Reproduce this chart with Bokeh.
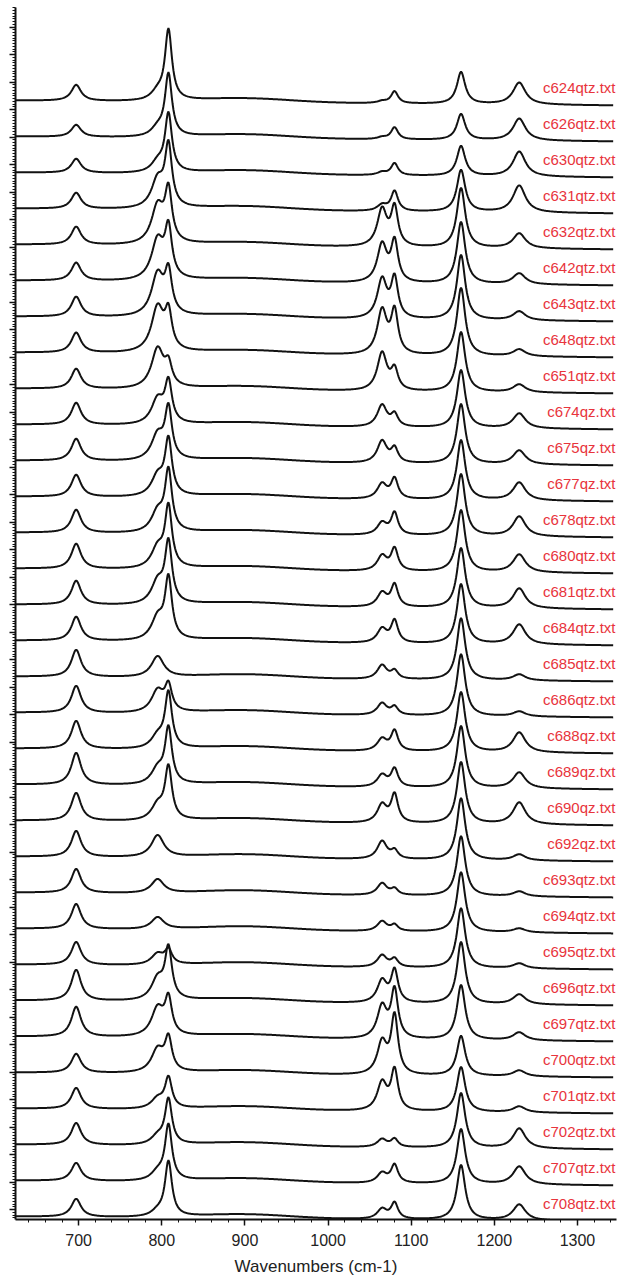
import numpy as np
from bokeh.plotting import figure
from bokeh.models import ColumnDataSource, LabelSet, SingleIntervalTicker, CustomLabelingPolicy
from bokeh.core.properties import value
from bokeh.embed import file_html
from bokeh.resources import INLINE

names = ["c624qtz.txt", "c626qtz.txt", "c630qtz.txt", "c631qtz.txt", "c632qtz.txt",
         "c642qtz.txt", "c643qtz.txt", "c648qtz.txt", "c651qtz.txt", "c674qz.txt",
         "c675qz.txt", "c677qz.txt", "c678qtz.txt", "c680qtz.txt", "c681qtz.txt",
         "c684qtz.txt", "c685qtz.txt", "c686qtz.txt", "c688qz.txt", "c689qz.txt",
         "c690qz.txt", "c692qz.txt", "c693qtz.txt", "c694qtz.txt", "c695qtz.txt",
         "c696qtz.txt", "c697qtz.txt", "c700qtz.txt", "c701qtz.txt", "c702qtz.txt",
         "c707qtz.txt", "c708qtz.txt"]

# band centres (cm-1) and half widths
band_pos = [697, 795, 808, 1065, 1080, 1160, 1230]
band_hw = [7, 9, 5, 7, 5, 6, 9]

# band heights per spectrum (intensity counts)
h697 = [16, 12, 14, 16, 18, 18, 20, 20, 20, 22, 22, 22, 23, 25, 24, 24,
        27, 27, 28, 32, 28, 26, 24, 25, 23, 31, 30, 19, 21, 22, 18, 18]
h795 = [8, 8, 10, 28, 38, 40, 42, 45, 40, 25, 25, 20, 20, 20, 22, 22,
        21, 22, 12, 15, 15, 22, 14, 12, 11, 21, 28, 23, 10, 8, 8, 5]
h808 = [70, 62, 58, 60, 50, 48, 40, 35, 20, 40, 50, 55, 60, 60, 60, 60,
        0, 25, 55, 55, 52, 0, 0, 0, 14, 50, 35, 32, 30, 45, 55, 55]
h1065 = [2, 2, 3, 6, 37, 38, 39, 44, 38, 22, 22, 15, 12, 15, 14, 14,
         14, 12, 12, 12, 18, 18, 12, 10, 12, 22, 32, 32, 28, 8, 10, 10]
h1080 = [12, 12, 12, 20, 38, 40, 39, 42, 20, 12, 14, 20, 22, 22, 22, 22,
         8, 8, 20, 18, 28, 8, 6, 6, 8, 32, 48, 58, 40, 8, 18, 16]
h1160 = [32, 26, 30, 42, 60, 62, 65, 68, 60, 58, 60, 60, 62, 62, 60, 60,
         62, 62, 60, 62, 62, 62, 60, 60, 60, 62, 55, 40, 45, 55, 55, 55]
h1230 = [22, 22, 25, 27, 15, 11, 9, 7, 8, 15, 14, 18, 20, 18, 20, 20,
         6, 5, 20, 16, 22, 6, 5, 4, 5, 10, 8, 6, 6, 20, 18, 16]

offset_top = 1109
offset_step = 36
baseline_tilt = -5
broad_band = 4

heights = [h697, h795, h808, h1065, h1080, h1160, h1230]
wn = np.arange(624, 1344, 1.0)

p = figure(width=619, height=1288, x_range=(624, 1347), y_range=(-10, 1202),
           output_backend="svg", toolbar_location=None,
           min_border_left=15, min_border_right=3, min_border_top=7, min_border_bottom=69)

xs, ys = [], []
for k in range(len(names)):
    base = offset_top - offset_step * k
    y = np.full_like(wn, base, dtype=float)
    y += baseline_tilt * (wn - wn[0]) / (wn[-1] - wn[0])
    y += broad_band * np.exp(-0.5 * ((wn - 900) / 55) ** 2)
    for pos, hw, hs in zip(band_pos, band_hw, heights):
        y += hs[k] * hw ** 2 / ((wn - pos) ** 2 + hw ** 2)
    xs.append(wn)
    ys.append(y)

p.multi_line(xs, ys, line_color="#121212", line_width=2.0)

lab = ColumnDataSource(dict(
    x=[1347] * len(names),
    y=[offset_top - offset_step * k + 13 for k in range(len(names))],
    t=names))
p.add_layout(LabelSet(x="x", y="y", text="t", source=lab, text_align="right",
                      text_baseline="middle", x_offset=-1, text_color="#e8343c",
                      text_font=value("Liberation Sans"), text_font_size="15px"))

p.xaxis.ticker = SingleIntervalTicker(interval=100, num_minor_ticks=5)
p.yaxis.ticker = SingleIntervalTicker(interval=27.5, num_minor_ticks=10)
p.xaxis.axis_label = "Wavenumbers (cm-1)"
p.xaxis.axis_label_text_font = "Liberation Sans"
p.xaxis.axis_label_text_font_style = "normal"
p.xaxis.axis_label_text_font_size = "17px"
p.xaxis.axis_label_text_color = "#222222"
p.xaxis.axis_label_standoff = 8
p.xaxis.major_label_text_font = "Liberation Sans"
p.xaxis.major_label_text_font_size = "16px"
p.xaxis.major_label_text_color = "#222222"
p.xaxis.major_label_standoff = 8
p.yaxis.major_label_policy = CustomLabelingPolicy(
    code="for (const i of Array.from(indices)) { indices.unset(i) }")
p.yaxis.major_label_text_font_size = "0px"
p.yaxis.major_label_standoff = 0
for ax in (p.xaxis, p.yaxis):
    ax.axis_line_width = 2
    ax.axis_line_color = "#111111"
    ax.major_tick_in = 0
    ax.major_tick_out = 6
    ax.minor_tick_in = 0
    ax.minor_tick_out = 3
    ax.major_tick_line_width = 1.5
    ax.minor_tick_line_width = 1
    ax.major_tick_line_color = "#111111"
    ax.minor_tick_line_color = "#111111"
p.xgrid.visible = False
p.ygrid.visible = False
p.outline_line_color = None

open("out.html", "w").write(file_html(p, INLINE))
